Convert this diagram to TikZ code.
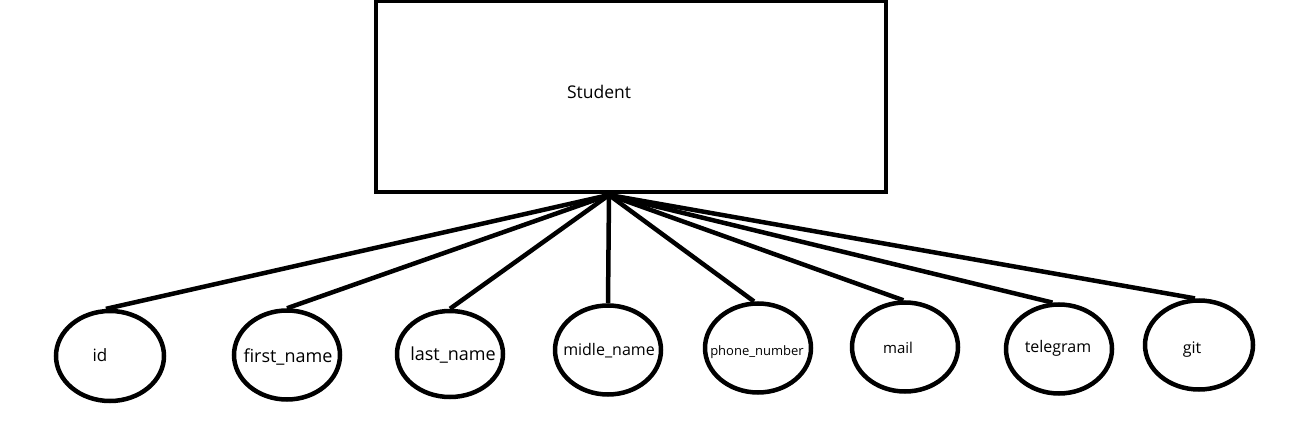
\documentclass[tikz,border=0pt]{standalone}
\usepackage{fontspec}
\setmainfont{Open Sans}
\usetikzlibrary{shapes.geometric}
\begin{document}
\begin{tikzpicture}[x=1pt,y=-1pt,
  attr/.style={draw,ellipse,line width=4.5pt,minimum width=106pt,minimum height=89pt,inner sep=0pt},
  lbl/.style={inner sep=0pt,anchor=center},
  conn/.style={line width=4.5pt},
  entity/.style={draw,line width=4pt,rectangle,minimum width=510pt,minimum height=190pt,inner sep=0pt}]
\useasboundingbox[fill=white] (0,0) rectangle (1296,441);
\node[entity] (student) at (631,96.5) {};
\node[lbl,font=\fontsize{17.5}{20}\selectfont] (tstudent) at (599,92) {Student};
\coordinate (hub) at (609,195);
\node[attr,minimum width=108pt,minimum height=90pt] (id) at (110,356) {};
\node[attr] (first) at (287,355) {};
\node[attr,minimum height=86pt] (last) at (450,354) {};
\node[attr] (midle) at (608,350) {};
\node[attr] (phone) at (758,348) {};
\node[attr] (mail) at (905,347) {};
\node[attr] (tele) at (1059,349) {};
\node[attr,minimum width=108pt] (git) at (1199,345) {};
\node[lbl,font=\fontsize{17}{20}\selectfont] at (100,355) {id};
\node[lbl,font=\fontsize{18}{20}\selectfont] at (288,357) {first\_name};
\node[lbl,font=\fontsize{18}{20}\selectfont] at (453,355) {last\_name};
\node[lbl,font=\fontsize{16}{20}\selectfont] at (609,351) {midle\_name};
\node[lbl,font=\fontsize{13}{16}\selectfont] at (757,352) {phone\_number};
\node[lbl,font=\fontsize{15}{18}\selectfont] at (898,348) {mail};
\node[lbl,font=\fontsize{16}{20}\selectfont] at (1058,348) {telegram};
\node[lbl,font=\fontsize{16}{20}\selectfont] at (1192,350) {git};
\draw[conn] (hub) -- (id.95);
\draw[conn] (hub) -- (first.north);
\draw[conn] (hub) -- (last.north);
\draw[conn] (hub) -- (midle.north);
\draw[conn] (hub) -- (phone.95);
\draw[conn] (hub) -- (mail.92);
\draw[conn] (hub) -- (tele.98);
\draw[conn] (hub) -- (git.95);
\end{tikzpicture}
\end{document}
